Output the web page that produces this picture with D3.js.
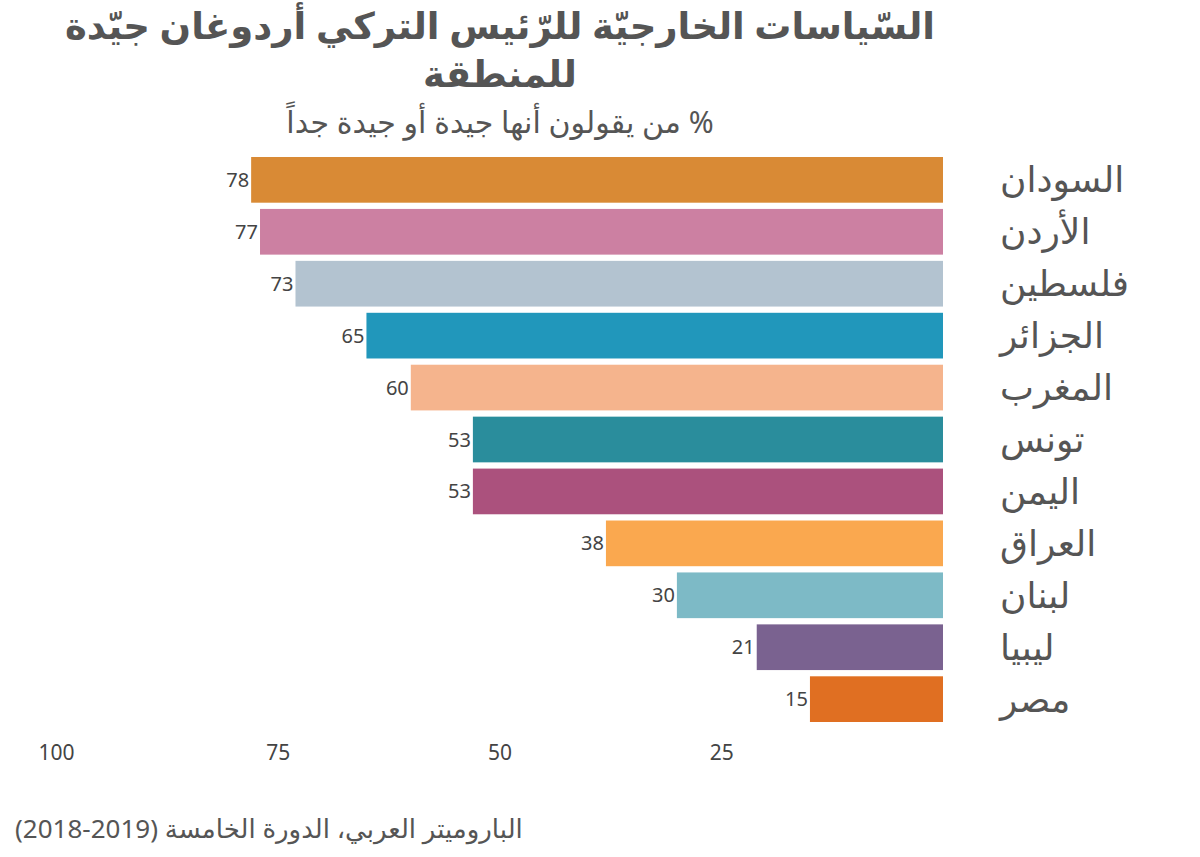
<!DOCTYPE html>
<html lang="ar">
<head>
  <meta charset="utf-8">
  <title>Chart</title>
  <style>
    body { margin: 0; background: #fff; }
    text { font-family: "Noto Sans", "DejaVu Sans", sans-serif; }
  </style>
</head>
<body>
  <script src="https://d3js.org/d3.v7.min.js"></script>
  <svg width="1200" height="857"></svg>
  <script>
    var countries = ["السودان", "الأردن", "فلسطين", "الجزائر", "المغرب", "تونس", "اليمن", "العراق", "لبنان", "ليبيا", "مصر"];
    var values = [78, 77, 73, 65, 60, 53, 53, 38, 30, 21, 15];
    var colors = ["#D98A35", "#CC80A2", "#B3C3D0", "#2197BB", "#F5B48D", "#2A8D9C", "#AB517D", "#FAA84F", "#7DBAC6", "#7A6290", "#E06F22"];
    var ticks = [100, 75, 50, 25];

    var titleLines = ["السّياسات الخارجيّة للرّئيس التركي أردوغان جيّدة", "للمنطقة"];
    var subtitle = "% من يقولون أنها جيدة أو جيدة جداً";
    // keep the year range left-to-right inside the rtl line
    var source = "الباروميتر العربي، الدورة الخامسة (\u202A2018-2019\u202C)";

    var data = countries.map(function (c, i) {
      return { name: c, value: values[i], color: colors[i] };
    });

    var svg = d3.select("svg");

    var x = d3.scaleLinear().domain([0, 100]).range([943, 56]);
    var y = d3.scaleBand().domain(countries).range([157, 722]).paddingInner(0.12).paddingOuter(0);

    // title
    svg.append("g").selectAll("text")
      .data(titleLines)
      .enter().append("text")
      .attr("x", 500)
      .attr("y", function (d, i) { return 39 + i * 48; })
      .attr("direction", "rtl")
      .attr("text-anchor", "middle")
      .attr("font-size", 37)
      .attr("font-weight", "bold")
      .attr("fill", "#555")
      .text(function (d) { return d; });

    svg.append("text")
      .attr("x", 500)
      .attr("y", 133)
      .attr("direction", "rtl")
      .attr("text-anchor", "middle")
      .attr("font-size", 30)
      .attr("fill", "#555")
      .text(subtitle);

    // bars
    svg.append("g").selectAll("rect")
      .data(data)
      .enter().append("rect")
      .attr("x", function (d) { return x(d.value); })
      .attr("y", function (d) { return y(d.name); })
      .attr("width", function (d) { return x(0) - x(d.value); })
      .attr("height", y.bandwidth())
      .attr("fill", function (d) { return d.color; });

    // value labels
    svg.append("g").selectAll("text")
      .data(data)
      .enter().append("text")
      .attr("x", function (d) { return x(d.value) - 2; })
      .attr("y", function (d) { return y(d.name) + y.bandwidth() / 2; })
      .attr("dy", "0.35em")
      .attr("text-anchor", "end")
      .attr("font-size", 20)
      .attr("fill", "#444")
      .text(function (d) { return d.value; });

    // country labels
    svg.append("g").selectAll("text")
      .data(data)
      .enter().append("text")
      .attr("x", 1000)
      .attr("y", function (d) { return y(d.name) + y.bandwidth() / 2; })
      .attr("dy", "0.35em")
      .attr("direction", "rtl")
      .attr("text-anchor", "end")
      .attr("font-size", 36)
      .attr("fill", "#555")
      .text(function (d) { return d.name; });

    // x axis
    var xAxis = d3.axisBottom(x).tickValues(ticks).tickSize(0).tickPadding(0);
    var gx = svg.append("g")
      .attr("transform", "translate(0,745)")
      .call(xAxis);
    gx.select(".domain").remove();
    gx.selectAll(".tick text")
      .attr("font-size", 21)
      .attr("font-family", "'Noto Sans', sans-serif")
      .attr("fill", "#444");

    // source
    svg.append("text")
      .attr("x", 15)
      .attr("y", 838)
      .attr("direction", "rtl")
      .attr("text-anchor", "end")
      .attr("font-size", 26)
      .attr("fill", "#555")
      .text(source);
  </script>
</body>
</html>
